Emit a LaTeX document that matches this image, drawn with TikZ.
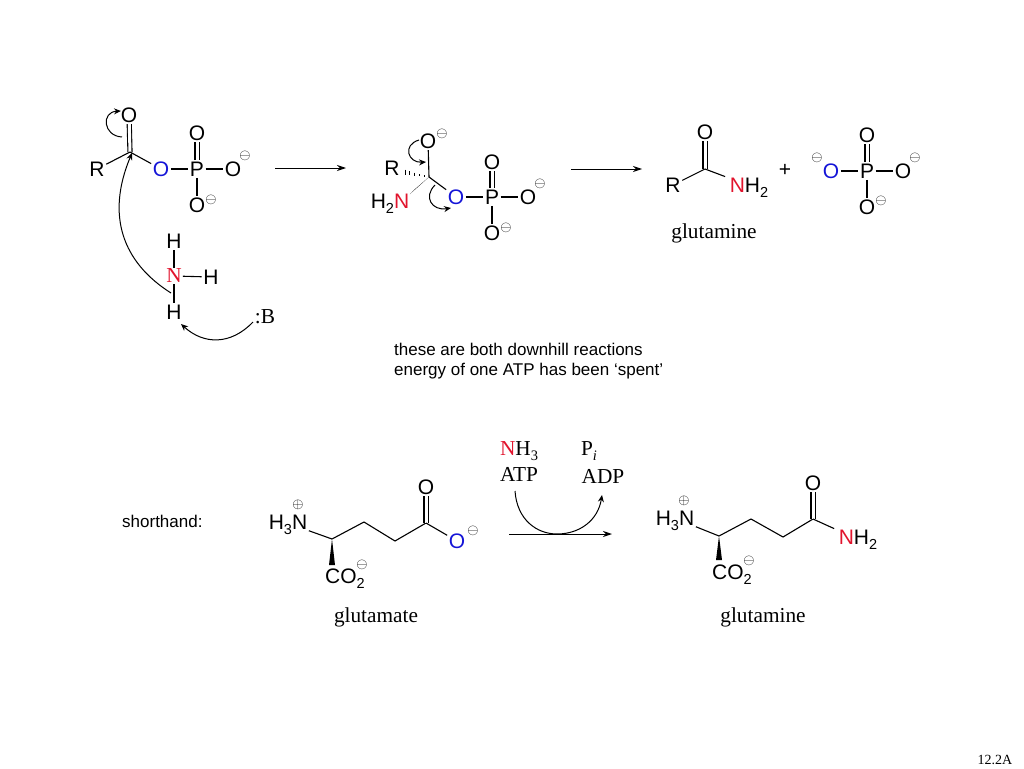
\documentclass[tikz,border=0pt]{standalone}
\usepackage{fontspec}
\setmainfont{Liberation Serif}
\setsansfont{Liberation Sans}
\usetikzlibrary{calc,arrows.meta}
\definecolor{atomred}{RGB}{225,20,45}
\definecolor{atomblue}{RGB}{20,20,215}
\newcommand{\atomsub}[1]{\raisebox{-0.45ex}{\fontsize{14.5}{15}\selectfont #1}}
\tikzset{
  atom/.style={inner sep=1.5pt,font=\fontsize{21}{23}\selectfont\sffamily},
  molname/.style={inner sep=1pt,font=\fontsize{21.3}{23}\selectfont},
  note/.style={inner sep=0pt,anchor=base west,font=\fontsize{17}{19}\selectfont\sffamily},
  charge/.style={inner sep=0pt,font=\fontsize{15}{15}\selectfont},
  bond/.style={line width=1.1pt},
  dbond/.style={line width=1.1pt,double,double distance=3pt},
  wedge/.style={fill=black},
  curly/.style={line width=1pt,-{Stealth[length=7pt,width=6pt]}},
  rxn/.style={line width=1pt,-{Stealth[length=9pt,width=6pt]}}
}
\begin{document}
\begin{tikzpicture}[x=1pt,y=-1pt]
  \useasboundingbox (0,0) rectangle (1024,768);

  % first acyl phosphate
  \coordinate (c1) at (130,152);
  \node [atom] (o1) at (129,115) {O};
  \node [atom] (r1) at (97,169) {R};
  \node [atom,text=atomblue] (o2) at (161,169) {O};
  \node [atom] (p1) at (197,169) {P};
  \node [atom] (o3) at (197,133) {O};
  \node [atom] (o4) at (233,169) {O};
  \node [atom] (o5) at (197,205) {O};
  \node [charge] (q1) at (245,156) {$\ominus$};
  \node [charge] (q2) at (211,200) {$\ominus$};
  \draw [dbond] (c1) -- (o1);
  \draw [bond] (c1) -- (r1);
  \draw [bond] (c1) -- (o2);
  \draw [bond] (o2) -- (p1);
  \draw [bond] (p1) -- (o4);
  \draw [bond] (p1) -- (o5);
  \draw [dbond] (p1) -- (o3);

  % ammonia and base
  \node [molname,text=atomred] (n1) at (174,276) {N};
  \node [atom] (h1) at (174,241) {H};
  \node [atom] (h2) at (211,277) {H};
  \node [atom] (h3) at (174,312) {H};
  \node [molname] (b1) at (265,317) {:B};
  \draw [bond] (n1) -- (h1);
  \draw [bond] (n1) -- (h2);
  \draw [bond] (n1) -- (h3);

  \coordinate (a1s) at (122,137);
  \coordinate (a1e) at (121,111);
  \coordinate (a2s) at (171,293);
  \coordinate (a2e) at (132,153);
  \coordinate (a3s) at (253,322);
  \coordinate (a3e) at (181,324);
  \draw [curly] (a1s) .. controls (103,136) and (101,112) .. (a1e);
  \draw [curly] (a2s) .. controls (122,262) and (106,215) .. (a2e);
  \draw [curly] (a3s) .. controls (231,345) and (204,345) .. (a3e);

  \coordinate (r1s) at (275,168);
  \coordinate (r1e) at (346,168);
  \draw [rxn] (r1s) -- (r1e);

  % tetrahedral intermediate
  \coordinate (c2) at (429,177);
  \coordinate (w1) at (412,192);
  \coordinate (h4) at (404,172);
  \node [atom] (o6) at (428,141) {O};
  \node [charge] (q3) at (442,134) {$\ominus$};
  \node [atom] (r2) at (392,168) {R};
  \node [atom] (n2) at (390,204) {H\atomsub{2}\textcolor{atomred}{N}};
  \node [atom,text=atomblue] (o7) at (456,197) {O};
  \node [atom] (p2) at (492,197) {P};
  \node [atom] (o8) at (492,162) {O};
  \node [atom] (o9) at (528,197) {O};
  \node [atom] (o10) at (492,233) {O};
  \node [charge] (q4) at (540,184) {$\ominus$};
  \node [charge] (q5) at (506,228) {$\ominus$};
  \draw [bond] (c2) -- (o6);
  \draw [bond] (c2) -- (o7);
  \draw [bond] (o7) -- (p2);
  \draw [bond] (p2) -- (o9);
  \draw [bond] (p2) -- (o10);
  \draw [dbond] (p2) -- (o8);
  \fill [wedge] (c2) -- ([shift={(-2.2pt,-2.2pt)}]w1) -- ([shift={(2.2pt,2.2pt)}]w1) -- cycle;
  \foreach \pos/\len in {0.18/0.7,0.38/1.1,0.58/1.6,0.78/2.1,0.96/2.6}
    \draw [line width=0.8pt] ($(c2)!\pos!(h4)$) ++(0,-\len) -- ++(0,2*\len);

  \coordinate (a4s) at (419,140);
  \coordinate (a4e) at (426,162);
  \coordinate (a5s) at (435,185);
  \coordinate (a5e) at (451,208);
  \draw [curly] (a4s) .. controls (402,145) and (408,163) .. (a4e);
  \draw [curly] (a5s) .. controls (423,197) and (432,211) .. (a5e);

  \coordinate (r2s) at (571,169);
  \coordinate (r2e) at (642,169);
  \draw [rxn] (r2s) -- (r2e);

  % amide and phosphate
  \coordinate (c3) at (705,169);
  \node [atom] (o11) at (705,132) {O};
  \node [atom] (r3) at (673,185) {R};
  \node [atom] (n3) at (749,188) {\textcolor{atomred}{N}H\atomsub{2}};
  \node [atom] (plus1) at (785,170) {+};
  \node [molname] (t1) at (714,233) {glutamine};
  \draw [dbond] (c3) -- (o11);
  \draw [bond] (c3) -- (r3);
  \draw [bond] (c3) -- ([xshift=-3pt]n3.north west);

  \node [atom,text=atomblue] (o12) at (831,171) {O};
  \node [atom] (p3) at (867,171) {P};
  \node [atom] (o13) at (867,135) {O};
  \node [atom] (o14) at (903,171) {O};
  \node [atom] (o15) at (867,207) {O};
  \node [charge] (q6) at (817,158) {$\ominus$};
  \node [charge] (q7) at (915,158) {$\ominus$};
  \node [charge] (q8) at (881,201) {$\ominus$};
  \draw [bond] (o12) -- (p3);
  \draw [bond] (p3) -- (o14);
  \draw [bond] (p3) -- (o15);
  \draw [dbond] (p3) -- (o13);

  % notes
  \node [note] (t2) at (394,355) {these are both downhill reactions};
  \node [note] (t3) at (394,375) {energy of one ATP has been ‘spent’};
  \node [note] (t4) at (122,527) {shorthand:};

  % glutamate
  \coordinate (c4) at (332,539);
  \coordinate (c5) at (364,522);
  \coordinate (c6) at (395,541);
  \coordinate (c7) at (426,523);
  \coordinate (w2) at (332,565);
  \node [atom] (n4) at (288,525) {H\atomsub{3}N};
  \node [charge] (q9) at (298,505) {$\oplus$};
  \node [atom] (o16) at (426,487) {O};
  \node [atom,text=atomblue] (o17) at (457,541) {O};
  \node [charge] (q10) at (473,531) {$\ominus$};
  \node [atom] (co1) at (345,579) {CO\atomsub{2}};
  \node [charge] (q11) at (362,565) {$\ominus$};
  \node [molname] (t5) at (376,617) {glutamate};
  \draw [bond] (c4) -- ($(n4.east)!0.5!(n4.south east)$);
  \draw [bond] (c4) -- (c5) -- (c6) -- (c7);
  \draw [dbond] (c7) -- (o16);
  \draw [bond] (c7) -- (o17);
  \fill [wedge] (c4) -- ([xshift=-3pt]w2) -- ([xshift=3pt]w2) -- cycle;

  % reagents
  \node [molname] (t6) at (519,451) {\textcolor{atomred}{N}H\atomsub{3}};
  \node [molname] (t7) at (519,474) {ATP};
  \node [molname] (t8) at (589,451) {P\atomsub{\textit{i}}};
  \node [molname] (t9) at (603,476) {ADP};
  \coordinate (r3s) at (509,534);
  \coordinate (r3e) at (612,534);
  \coordinate (a6s) at (515,491);
  \coordinate (a6e) at (602,495);
  \draw [rxn] (r3s) -- (r3e);
  \draw [curly] (a6s) .. controls (517,520) and (537,534) .. (557,534)
    .. controls (580,534) and (598,520) .. (a6e);

  % glutamine
  \coordinate (c8) at (719,536);
  \coordinate (c9) at (751,519);
  \coordinate (c10) at (783,537);
  \coordinate (c11) at (813,519);
  \coordinate (w3) at (719,560);
  \node [atom] (n5) at (675,521) {H\atomsub{3}N};
  \node [charge] (q12) at (684,501) {$\oplus$};
  \node [atom] (o18) at (813,483) {O};
  \node [atom] (n6) at (858,540) {\textcolor{atomred}{N}H\atomsub{2}};
  \node [atom] (co2) at (732,575) {CO\atomsub{2}};
  \node [charge] (q13) at (749,561) {$\ominus$};
  \node [molname] (t10) at (763,617) {glutamine};
  \draw [bond] (c8) -- ($(n5.east)!0.5!(n5.south east)$);
  \draw [bond] (c8) -- (c9) -- (c10) -- (c11);
  \draw [dbond] (c11) -- (o18);
  \draw [bond] (c11) -- ([xshift=-3pt]n6.north west);
  \fill [wedge] (c8) -- ([xshift=-3pt]w3) -- ([xshift=3pt]w3) -- cycle;

  \node [inner sep=0pt,font=\fontsize{14}{15}\selectfont] (t11) at (995,760) {12.2A};
\end{tikzpicture}
\end{document}
